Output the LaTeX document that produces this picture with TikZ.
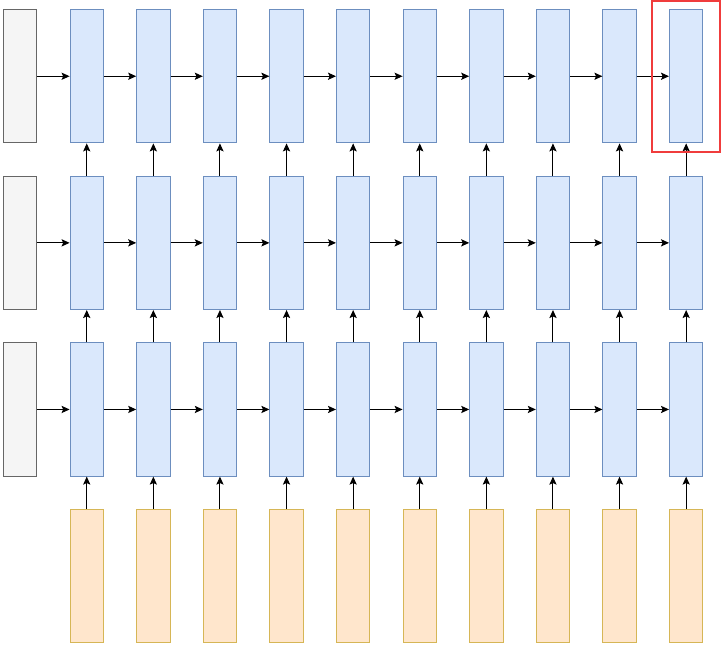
\documentclass[tikz,border=0pt]{standalone}
\usetikzlibrary{arrows.meta,fit}

\definecolor{cellfill}{HTML}{DAE8FC}
\definecolor{cellline}{HTML}{6C8EBF}
\definecolor{infill}{HTML}{FFE6CC}
\definecolor{inline}{HTML}{D6B656}
\definecolor{statefill}{HTML}{F5F5F5}
\definecolor{stateline}{HTML}{666666}
\definecolor{marker}{HTML}{F03C3C}

\begin{document}
\begin{tikzpicture}[
        x=0.5pt, y=-0.5pt,
        box/.style={minimum width=16.67pt, minimum height=66.67pt, inner sep=0pt, line width=0.5pt},
        cell/.style={box, draw=cellline, fill=cellfill},
        input/.style={box, draw=inline, fill=infill},
        state/.style={box, draw=stateline, fill=statefill},
        arrow/.style={-{Stealth[length=4pt,width=3.6pt,inset=0.8pt]}, line width=0.5pt}
        ]
        \useasboundingbox (0,0) rectangle (721,647);
        % initial states and the three layers
        \foreach \r in {1,2,3} {
            \node[state] (g\r) at (19.75,{76.25+166.6*(\r-1)}) {};
            \foreach \i in {0,...,9} {
                \node[cell] (b\r-\i) at ({86.75+66.6*\i},{76.25+166.6*(\r-1)}) {};
            }
        }
        % inputs
        \foreach \i in {0,...,9} {
            \node[input] (o\i) at ({86.75+66.6*\i},576.1) {};
        }
        % connections along each layer
        \foreach \r in {1,2,3} {
            \draw[arrow] (g\r) -- (b\r-0);
            \foreach \i in {0,...,8} {
                \draw[arrow] (b\r-\i) -- (b\r-\the\numexpr\i+1);
            }
        }
        % connections between layers
        \foreach \i in {0,...,9} {
            \draw[arrow] (o\i) -- (b3-\i);
            \draw[arrow] (b3-\i) -- (b2-\i);
            \draw[arrow] (b2-\i) -- (b1-\i);
        }
        \node[draw=marker, line width=1pt, inner xsep=8.5pt, inner ysep=4.2pt, fit=(b1-9)] (hl) {};
    \end{tikzpicture}
\end{document}
